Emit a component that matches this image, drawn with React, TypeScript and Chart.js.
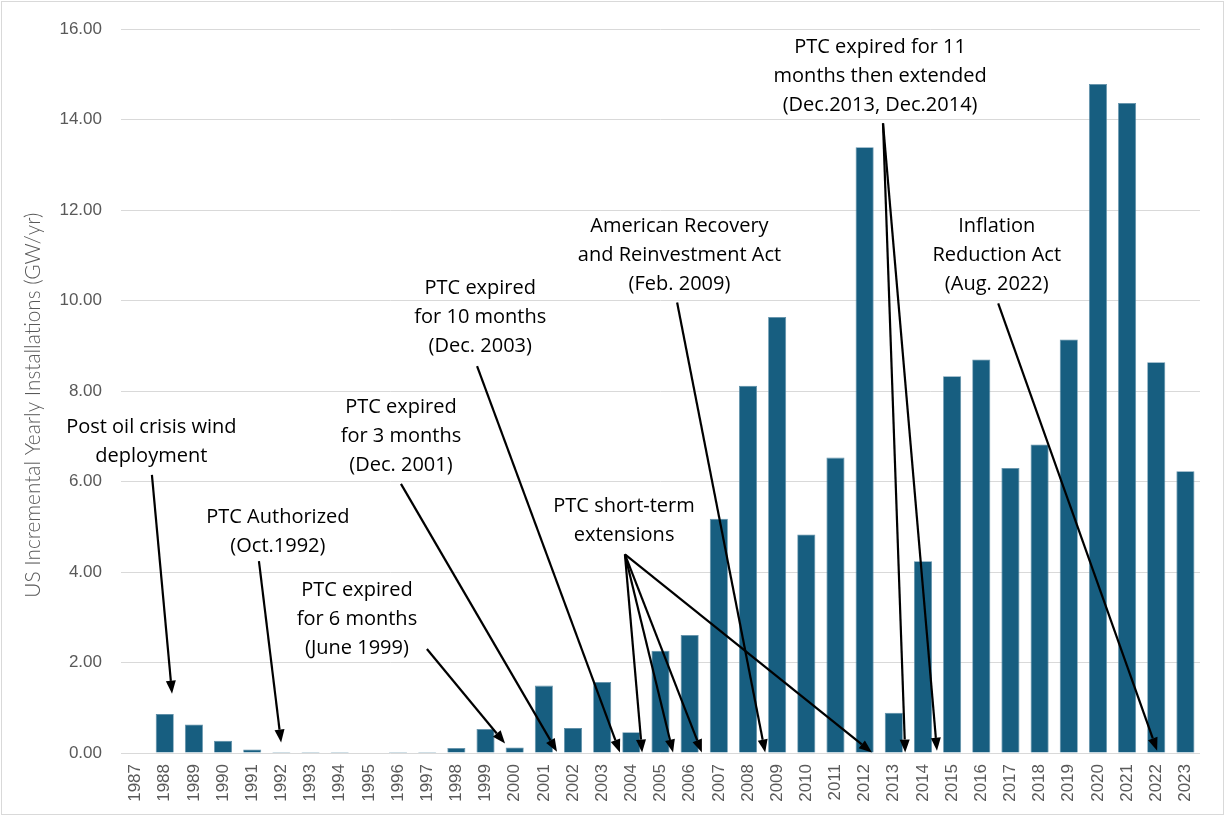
import React, { useEffect, useRef } from "react";
import { Chart, registerables } from "chart.js";

Chart.register(...registerables);

const years: string[] = [
  "1987", "1988", "1989", "1990", "1991", "1992", "1993", "1994", "1995", "1996",
  "1997", "1998", "1999", "2000", "2001", "2002", "2003", "2004", "2005", "2006",
  "2007", "2008", "2009", "2010", "2011", "2012", "2013", "2014", "2015", "2016",
  "2017", "2018", "2019", "2020", "2021", "2022", "2023",
];

const installs: number[] = [
  0, 0.86, 0.63, 0.27, 0.08, 0.02, 0.02, 0.02, 0, 0.02,
  0.02, 0.11, 0.53, 0.12, 1.49, 0.55, 1.57, 0.46, 2.26, 2.61,
  5.18, 8.12, 9.64, 4.83, 6.53, 13.39, 0.89, 4.24, 8.33, 8.7,
  6.3, 6.82, 9.14, 14.79, 14.37, 8.64, 6.23,
];

const yTicks: number[] = [0, 2, 4, 6, 8, 10, 12, 14, 16];

const yTitle = "US Incremental Yearly Installations (GW/yr)";

// Annotation labels (center of the first line in category-index / value units)
const noteLabels: string[][] = [
  ["Post oil crisis wind", "deployment"],
  ["PTC Authorized", "(Oct.1992)"],
  ["PTC expired", "for 6 months", "(June 1999)"],
  ["PTC expired", "for 3 months", "(Dec. 2001)"],
  ["PTC expired", "for 10 months", "(Dec. 2003)"],
  ["PTC short-term", "extensions"],
  ["American Recovery", "and Reinvestment Act", "(Feb. 2009)"],
  ["PTC expired for 11", "months then extended", "(Dec.2013, Dec.2014)"],
  ["Inflation", "Reduction Act", "(Aug. 2022)"],
];
const noteX: number[] = [0.54, 4.88, 7.59, 9.1, 11.82, 16.75, 18.65, 25.53, 29.53];
const noteY: number[] = [7.21, 5.2, 3.6, 7.65, 10.27, 5.45, 11.65, 15.59, 11.65];

// Arrows: start and tip, in category-index / value units
const arrowFromX: number[] = [0.56, 4.23, 9.99, 9.1, 11.71, 16.78, 16.78, 16.78, 16.78, 18.57, 25.63, 25.63, 29.58];
const arrowFromY: number[] = [6.15, 4.24, 2.3, 5.95, 8.55, 4.39, 4.39, 4.39, 4.39, 9.96, 13.92, 13.92, 9.94];
const arrowToX: number[] = [1.25, 4.99, 12.67, 14.45, 16.61, 17.37, 18.43, 19.42, 25.25, 21.59, 26.39, 27.48, 35.03];
const arrowToY: number[] = [1.31, 0.23, 0.21, 0.03, 0.01, 0.01, 0.01, 0.01, 0.01, 0.01, 0.01, 0.05, 0.05];

const annotationPlugin = {
  id: "annotations",
  afterDraw(chart: any) {
    const ctx = chart.ctx as CanvasRenderingContext2D;
    const xs = chart.scales.x;
    const ys = chart.scales.y;
    const area = chart.chartArea;
    ctx.save();

    // outer border
    ctx.strokeStyle = "#d9d9d9";
    ctx.lineWidth = 1;
    ctx.strokeRect(1.5, 1.5, chart.width - 3, chart.height - 3);

    // y axis title
    ctx.save();
    ctx.translate(33, (area.top + area.bottom) / 2 + 14);
    ctx.rotate(-Math.PI / 2);
    ctx.fillStyle = "#595959";
    ctx.font = "300 20.8px Lato";
    ctx.textAlign = "center";
    ctx.textBaseline = "middle";
    ctx.fillText(yTitle, 0, 0);
    ctx.restore();

    // labels
    ctx.fillStyle = "#000";
    ctx.font = "20px 'Open Sans'";
    ctx.textAlign = "center";
    ctx.textBaseline = "middle";
    const lh = 29;
    noteLabels.forEach((lines, i) => {
      const cx = xs.getPixelForValue(noteX[i]);
      const cy = ys.getPixelForValue(noteY[i]);
      lines.forEach((t, j) => ctx.fillText(t, cx, cy + j * lh));
    });

    // arrows
    ctx.strokeStyle = "#000";
    ctx.fillStyle = "#000";
    ctx.lineWidth = 2.2;
    for (let i = 0; i < arrowFromX.length; i++) {
      const x0 = xs.getPixelForValue(arrowFromX[i]);
      const y0 = ys.getPixelForValue(arrowFromY[i]);
      const x1 = xs.getPixelForValue(arrowToX[i]);
      const y1 = ys.getPixelForValue(arrowToY[i]);
      const ang = Math.atan2(y1 - y0, x1 - x0);
      const hl = 13;
      const hw = 5;
      const bx = x1 - hl * Math.cos(ang);
      const by = y1 - hl * Math.sin(ang);
      ctx.beginPath();
      ctx.moveTo(x0, y0);
      ctx.lineTo(bx, by);
      ctx.stroke();
      ctx.beginPath();
      ctx.moveTo(x1, y1);
      ctx.lineTo(bx + hw * Math.sin(ang), by - hw * Math.cos(ang));
      ctx.lineTo(bx - hw * Math.sin(ang), by + hw * Math.cos(ang));
      ctx.closePath();
      ctx.fill();
    }
    ctx.restore();
  },
};

export default function App() {
  const ref = useRef<HTMLCanvasElement | null>(null);
  useEffect(() => {
    document.body.style.margin = "0";
    const canvas = ref.current;
    if (!canvas) return;
    const chart = new Chart(canvas, {
      type: "bar",
      data: {
        labels: years,
        datasets: [
          {
            data: installs,
            backgroundColor: "#175e80",
            borderColor: "#5f8fa8",
            borderWidth: 0.8,
            categoryPercentage: 1,
            barPercentage: 0.62,
          },
        ],
      },
      options: {
        responsive: false,
        animation: false,
        devicePixelRatio: 1,
        layout: { padding: { top: 25, right: 25, left: 0, bottom: 0 } },
        plugins: {
          legend: { display: false },
          tooltip: { enabled: false },
        },
        scales: {
          x: {
            grid: { display: false, drawTicks: false },
            border: { display: false },
            ticks: {
              minRotation: 90,
              maxRotation: 90,
              autoSkip: false,
              padding: 11,
              color: "#595959",
              font: { family: "Liberation Sans", size: 17 },
            },
            afterFit(scale: any) {
              scale.height = 63;
            },
          },
          y: {
            min: 0,
            max: 16,
            afterBuildTicks(scale: any) {
              scale.ticks = yTicks.map((v) => ({ value: v }));
            },
            grid: { color: "#d9d9d9", lineWidth: 1, drawTicks: false },
            border: { display: false },
            ticks: {
              padding: 19,
              color: "#595959",
              font: { family: "Liberation Sans", size: 17 },
              callback: (v: any) => Number(v).toFixed(2),
            },
            afterFit(scale: any) {
              scale.width = 121;
            },
          },
        },
      },
      plugins: [annotationPlugin],
    });
    return () => chart.destroy();
  }, []);
  return <canvas ref={ref} width={1225} height={816} style={{ display: "block" }} />;
}
